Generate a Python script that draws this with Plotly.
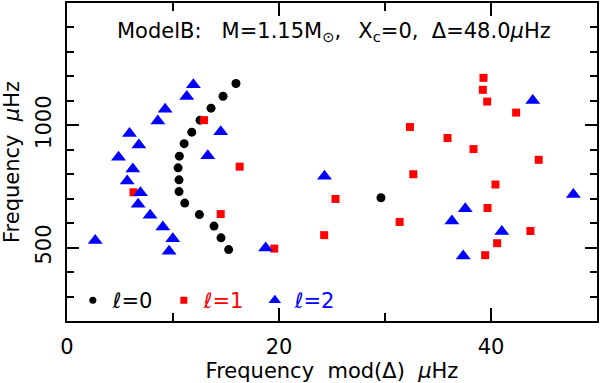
import plotly.graph_objects as go

# l=0 modes: frequency mod Delta (muHz), frequency (muHz)
l0_x = [15.94, 14.72, 13.59, 12.55, 11.77, 11.05, 10.6, 10.48, 10.57, 10.57,
        11.11, 12.49, 13.87, 14.53, 15.25, 29.62]
l0_y = [1171, 1119, 1070, 1021, 972, 925, 874, 826, 777, 729,
        682, 635, 588, 540, 492, 704]

# l=1 modes
l1_x = [12.93, 16.29, 6.27, 14.5, 19.55, 39.29, 39.23, 39.64, 42.37, 32.35,
        35.9, 38.35, 44.5, 32.67, 40.42, 25.33, 31.38, 24.26, 39.67, 40.58,
        39.45, 43.72]
l1_y = [1021, 831, 726, 637, 496, 1194, 1145, 1097, 1052, 993,
        948, 903, 859, 800, 758, 699, 605, 551, 662, 518,
        469, 568]

# l=2 modes
l2_x = [11.92, 11.30, 9.26, 8.57, 14.5, 5.9, 6.78, 13.28, 4.86, 6.21,
        5.68, 6.93, 6.71, 7.84, 9.04, 9.98, 9.63, 2.66, 18.74, 24.29,
        43.94, 47.77, 37.57, 36.31, 41.02, 37.38]
l2_y = [1166, 1118, 1066, 1018, 974, 967, 920, 876, 869, 821,
        772, 724, 677, 632, 584, 536, 485, 529, 498, 792,
        1101, 717, 659, 609, 566, 466]

FONT = "DejaVu Sans, Arial, sans-serif"
RED = "#ff0000"
BLUE = "#0000ff"

fig = go.Figure()

# données
fig.add_trace(go.Scatter(x=l0_x, y=l0_y, mode="markers", showlegend=False,
                         marker=dict(symbol="circle", size=9, color="black")))
fig.add_trace(go.Scatter(x=l1_x, y=l1_y, mode="markers", showlegend=False,
                         marker=dict(symbol="square", size=8, color=RED)))
fig.add_trace(go.Scatter(x=l2_x, y=l2_y, mode="markers", showlegend=False,
                         marker=dict(symbol="triangle-up", size=13, color=BLUE)))

# entrées de légende (symboles plus petits, comme dans l'original)
fig.add_trace(go.Scatter(x=[None], y=[None], mode="markers",
                         name="<i>ℓ</i>=0",
                         marker=dict(symbol="circle", size=7, color="black")))
fig.add_trace(go.Scatter(x=[None], y=[None], mode="markers",
                         name=f'<span style="color:{RED}"><i>ℓ</i>=1</span>',
                         marker=dict(symbol="square", size=7, color=RED)))
fig.add_trace(go.Scatter(x=[None], y=[None], mode="markers",
                         name=f'<span style="color:{BLUE}"><i>ℓ</i>=2</span>',
                         marker=dict(symbol="triangle-up", size=11, color=BLUE)))

fig.add_annotation(
    x=0.503, y=0.91, xref="paper", yref="paper",
    text="ModelB:   M=1.15M<sub>⊙</sub>,\u2002 X<sub>c</sub>=0,  Δ=48.0<i>μ</i>Hz",
    showarrow=False, font=dict(size=21, color="black", family=FONT),
    xanchor="center", yanchor="middle",
)

axis_common = dict(
    showline=True, linecolor="black", linewidth=2, mirror="allticks",
    ticks="inside", tickcolor="black", tickwidth=1.5,
    showgrid=False, zeroline=False, automargin=False,
    tickfont=dict(size=21, color="black", family=FONT),
)

fig.update_xaxes(
    range=[0, 50], dtick=20, tick0=0, ticklen=13, ticklabelstandoff=6,
    minor=dict(dtick=10, ticklen=8, ticks="inside", tickcolor="black", tickwidth=1.5),
    title=dict(text="Frequency  mod(Δ)  <i>μ</i>Hz", font=dict(size=21, family=FONT, color="black"),
               standoff=2),
    **axis_common,
)
fig.update_yaxes(
    range=[200, 1500], tickvals=[500, 1000], ticklen=12, tickangle=-90,
    ticklabelstandoff=6,
    minor=dict(dtick=100, ticklen=7, ticks="inside", tickcolor="black", tickwidth=1.5),
    title=dict(text="Frequency  <i>μ</i>Hz", font=dict(size=21, family=FONT, color="black"),
               standoff=8),
    **axis_common,
)

fig.update_layout(
    width=600, height=383,
    margin=dict(l=67, r=3, t=3, b=62),
    plot_bgcolor="white", paper_bgcolor="white",
    font=dict(family=FONT, color="black"),
    legend=dict(orientation="h", x=0.011, y=0.0, xanchor="left", yanchor="bottom",
                bgcolor="rgba(0,0,0,0)", font=dict(size=21, family=FONT, color="black"),
                entrywidth=46, entrywidthmode="pixels", itemsizing="trace"),
)

# la page par défaut ajoute une marge de 8 px autour du graphique
fig.write_html("out.html", config={"displayModeBar": False},
               post_script="document.body.style.margin = '0';")
